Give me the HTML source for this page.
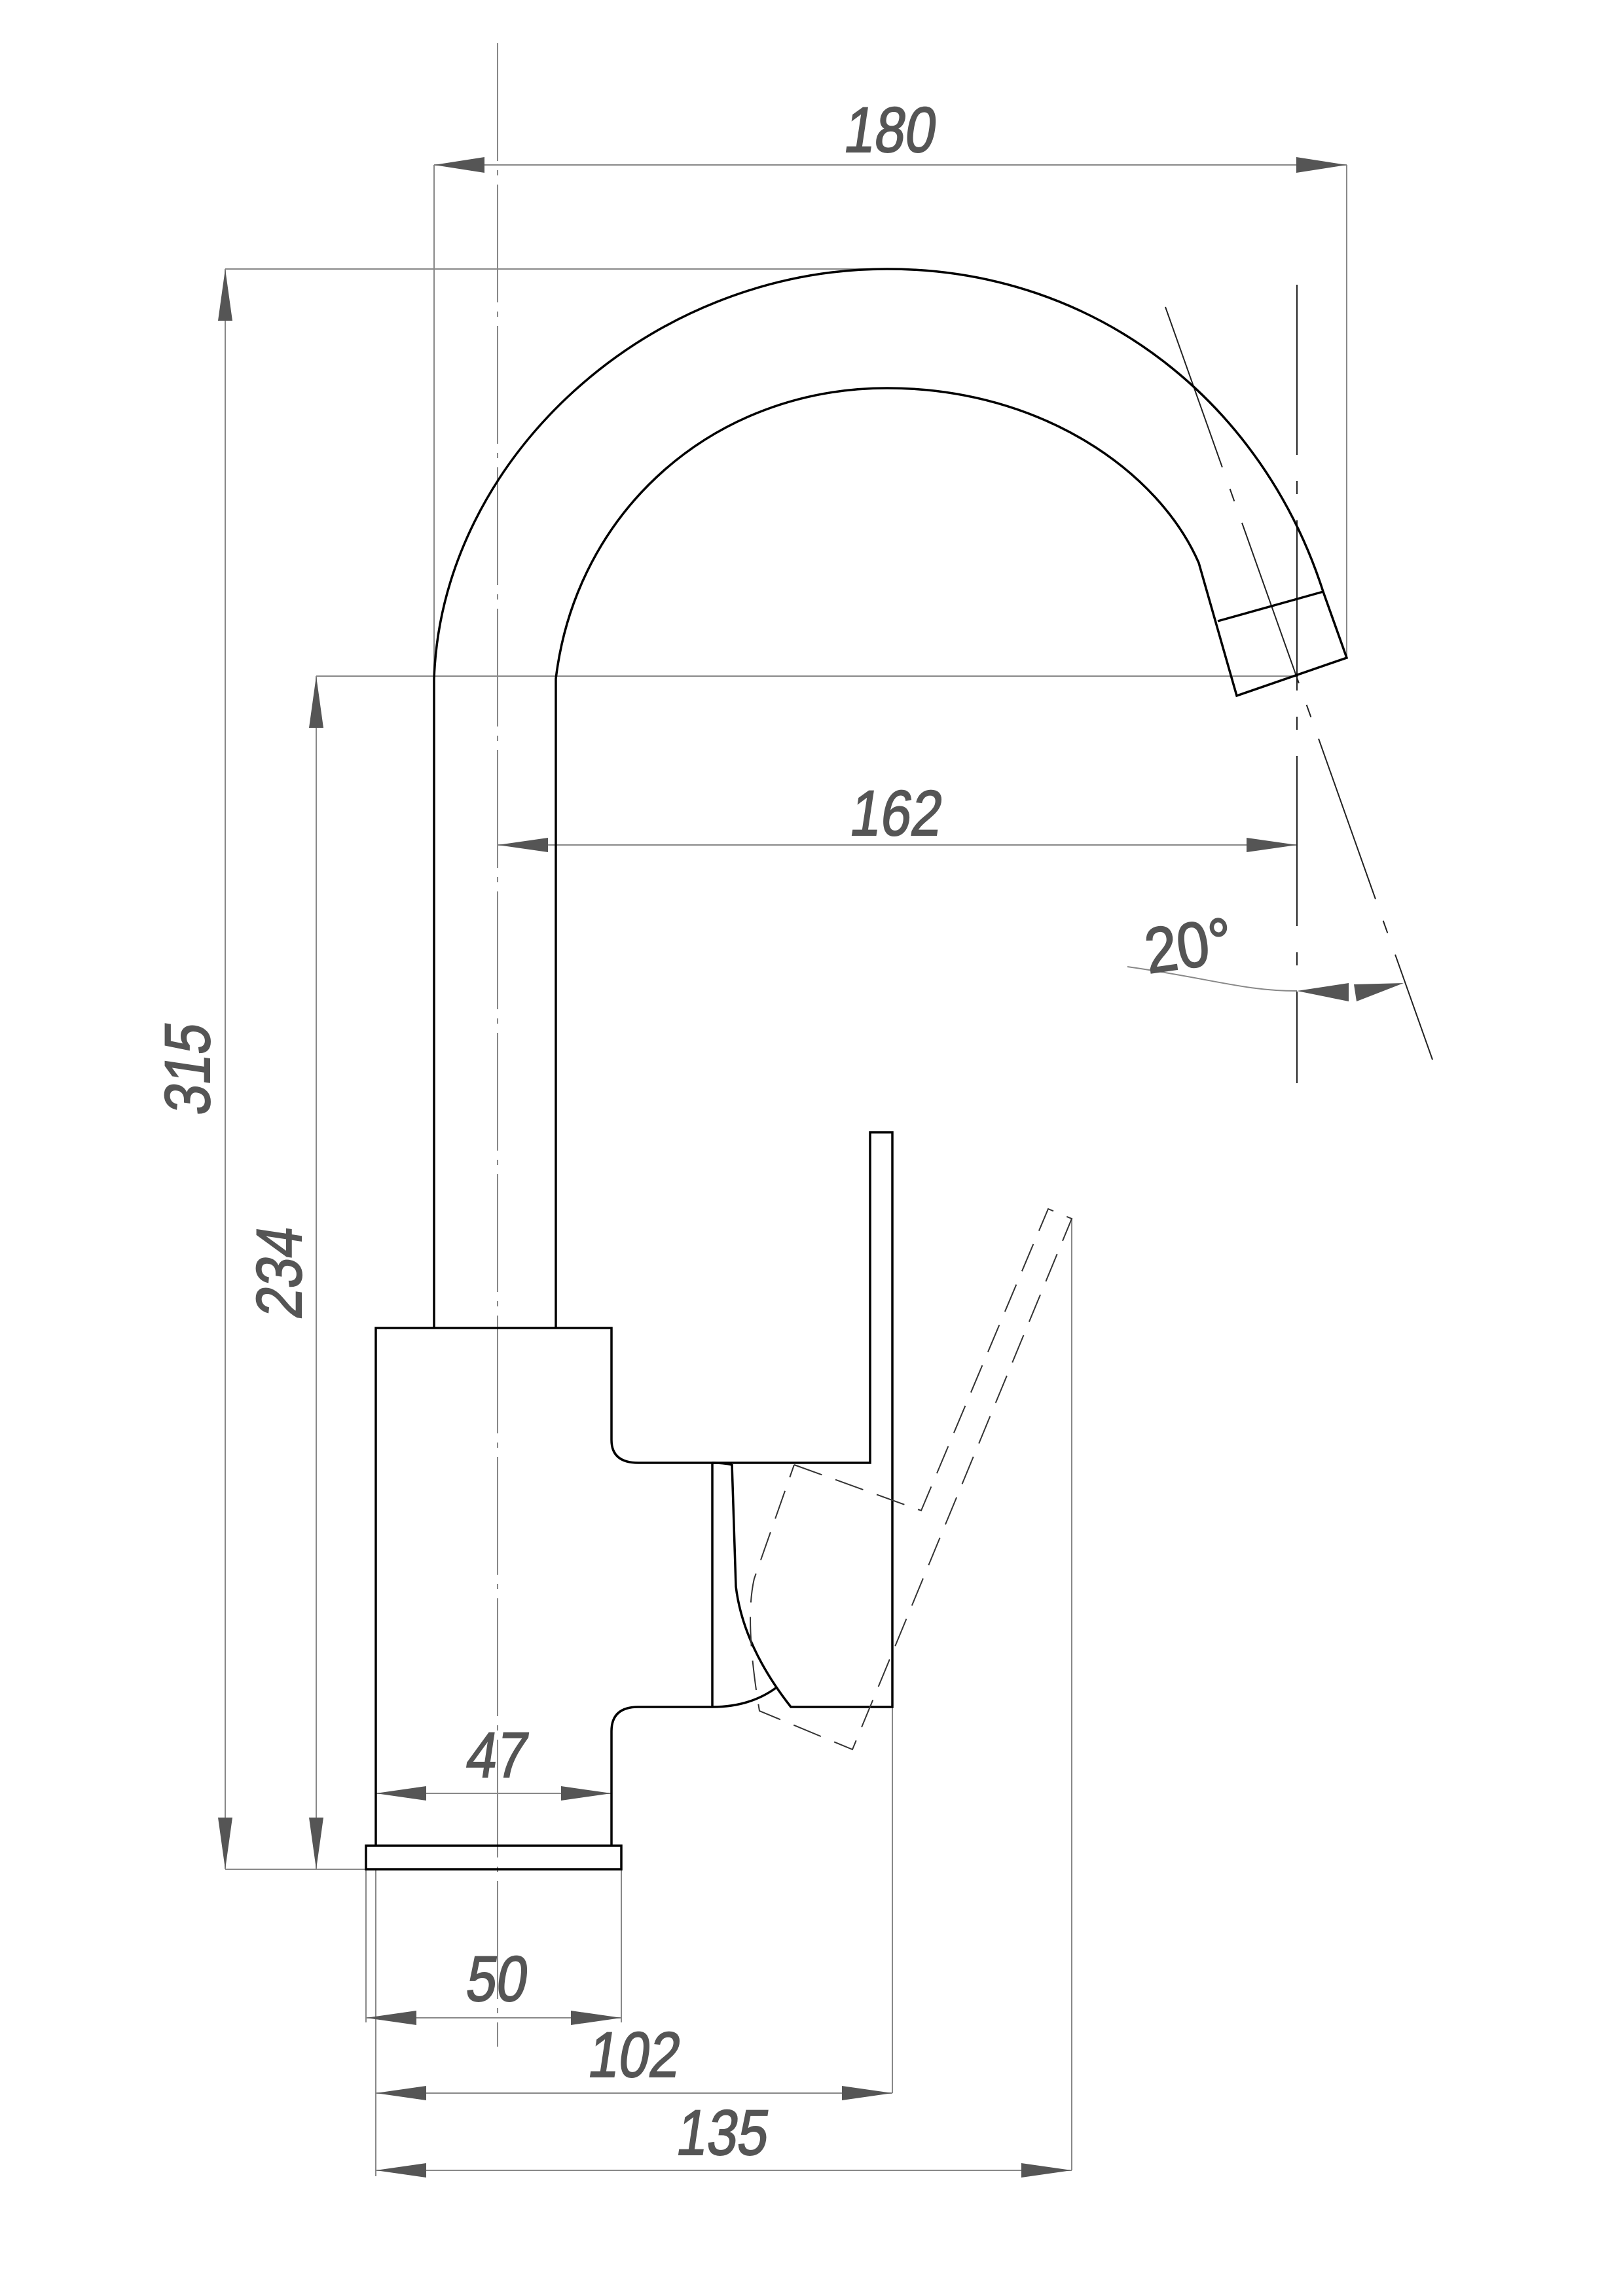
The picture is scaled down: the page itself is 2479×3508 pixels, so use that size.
<!DOCTYPE html>
<html><head><meta charset="utf-8"><style>html,body{margin:0;padding:0;background:#fff}svg{display:block}</style></head>
<body>
<svg width="2479" height="3508" viewBox="0 0 2479 3508" xmlns="http://www.w3.org/2000/svg">
<defs>
<style>
.t{font-family:"Liberation Sans",sans-serif;font-size:98px;fill:#555;stroke:#555;stroke-width:2}
</style>
</defs>
<rect width="2479" height="3508" fill="#fff"/>
<g stroke="#888" stroke-width="2" fill="none">
  <line x1="760" y1="66" x2="760" y2="3127" stroke-dasharray="180,14,8,14"/>
  <line x1="663" y1="252" x2="2057" y2="252"/>
  <line x1="663" y1="252" x2="663" y2="1037"/>
  <line x1="2057" y1="252" x2="2057" y2="1005"/>
  <line x1="344" y1="411" x2="1355" y2="411"/>
  <line x1="344" y1="411" x2="344" y2="2856"/>
  <line x1="483" y1="1033" x2="1983" y2="1033"/>
  <line x1="483" y1="1033" x2="483" y2="2856"/>
  <line x1="344" y1="2856" x2="559" y2="2856"/>
  <line x1="760" y1="1291" x2="1981" y2="1291"/>
  <path d="M1722,1477 C1850,1495 1900,1514 1981,1514"/>
  <line x1="574" y1="2740" x2="934" y2="2740"/>
  <line x1="559" y1="2856" x2="559" y2="3090"/>
  <line x1="949" y1="2856" x2="949" y2="3090"/>
  <line x1="559" y1="3083" x2="949" y2="3083"/>
  <line x1="574" y1="2856" x2="574" y2="3325"/>
  <line x1="1363" y1="2608" x2="1363" y2="3198"/>
  <line x1="574" y1="3198" x2="1363" y2="3198"/>
  <line x1="1637" y1="1862" x2="1637" y2="3316"/>
  <line x1="574" y1="3316" x2="1637" y2="3316"/>
</g>
<g stroke="#222" stroke-width="2" fill="none">
  <line x1="1981" y1="435" x2="1981" y2="1655" stroke-dasharray="260,40,20,40"/>
  <line x1="1780" y1="469" x2="2188" y2="1619" stroke-dasharray="260,35,20,35"/>
</g>
<g fill="#555">
  <polygon points="663,252 740,240 740,264"/>
  <polygon points="2057,252 1980,240 1980,264"/>
  <polygon points="344,411 333,490 355,490"/>
  <polygon points="344,2856 333,2777 355,2777"/>
  <polygon points="483,1033 472,1112 494,1112"/>
  <polygon points="483,2856 472,2777 494,2777"/>
  <polygon points="760,1291 837,1280 837,1302"/>
  <polygon points="1981,1291 1904,1280 1904,1302"/>
  <polygon points="1981,1514 2060,1502 2060,1530"/>
  <polygon points="2144,1502 2068,1504 2072,1530"/>
  <polygon points="574,2740 651,2729 651,2751"/>
  <polygon points="934,2740 857,2729 857,2751"/>
  <polygon points="559,3083 636,3072 636,3094"/>
  <polygon points="949,3083 872,3072 872,3094"/>
  <polygon points="574,3198 651,3187 651,3209"/>
  <polygon points="1363,3198 1286,3187 1286,3209"/>
  <polygon points="574,3316 651,3305 651,3327"/>
  <polygon points="1637,3316 1560,3305 1560,3327"/>
</g>
<g stroke="#000" stroke-width="3.5" fill="none" stroke-linejoin="miter">
  <path d="M663,2029 L663,1037 C675,700 990,411 1355,411 C1680,411 1930,620 2021,904 L2057,1005 L1889,1063 L1831,860 C1770,720 1590,593 1355,593 C1090,593 880,780 849,1037 L849,2029"/>
  <line x1="1860" y1="949" x2="2021" y2="904"/>
  <path d="M574,2820 L574,2029 L934,2029 L934,2200 Q934,2235 975,2235 L1329,2235 L1329,1730 L1363,1730 L1363,2608 L1208,2608 Q1135,2515 1124,2424 L1118,2237"/>
  <path d="M1088,2235 Q1105,2235 1118,2238"/>
  <path d="M1088,2236 L1088,2608"/>
  <path d="M1088,2608 Q1145,2608 1185,2579"/>
  <path d="M1088,2608 L975,2608 Q934,2608 934,2645 L934,2820"/>
  <rect x="559" y="2820" width="390" height="36"/>
</g>
<g stroke="#333" stroke-width="2" fill="none" stroke-dasharray="45,22">
  <path d="M1213,2238 L1407,2308 L1601,1847 L1637,1862 L1302,2673 L1160,2614 Q1137,2476 1152,2412 L1213,2238"/>
</g>
<text class="t" transform="translate(1356,232) scale(0.85,1) skewX(-10)" text-anchor="middle">180</text>
<text class="t" transform="translate(1365,1276) scale(0.85,1) skewX(-10)" text-anchor="middle">162</text>
<text class="t" transform="translate(1820,1478) rotate(-8) scale(0.9,1)" text-anchor="middle">20°</text>
<text class="t" transform="translate(320,1637) rotate(-90) scale(0.85,1) skewX(-10)" text-anchor="middle">315</text>
<text class="t" transform="translate(460,1948) rotate(-90) scale(0.85,1) skewX(-10)" text-anchor="middle">234</text>
<text class="t" transform="translate(755,2715) scale(0.85,1) skewX(-10)" text-anchor="middle">47</text>
<text class="t" transform="translate(755,3057) scale(0.85,1) skewX(-10)" text-anchor="middle">50</text>
<text class="t" transform="translate(965,3173) scale(0.85,1) skewX(-10)" text-anchor="middle">102</text>
<text class="t" transform="translate(1100,3292) scale(0.85,1) skewX(-10)" text-anchor="middle">135</text>
</svg>
</body></html>
